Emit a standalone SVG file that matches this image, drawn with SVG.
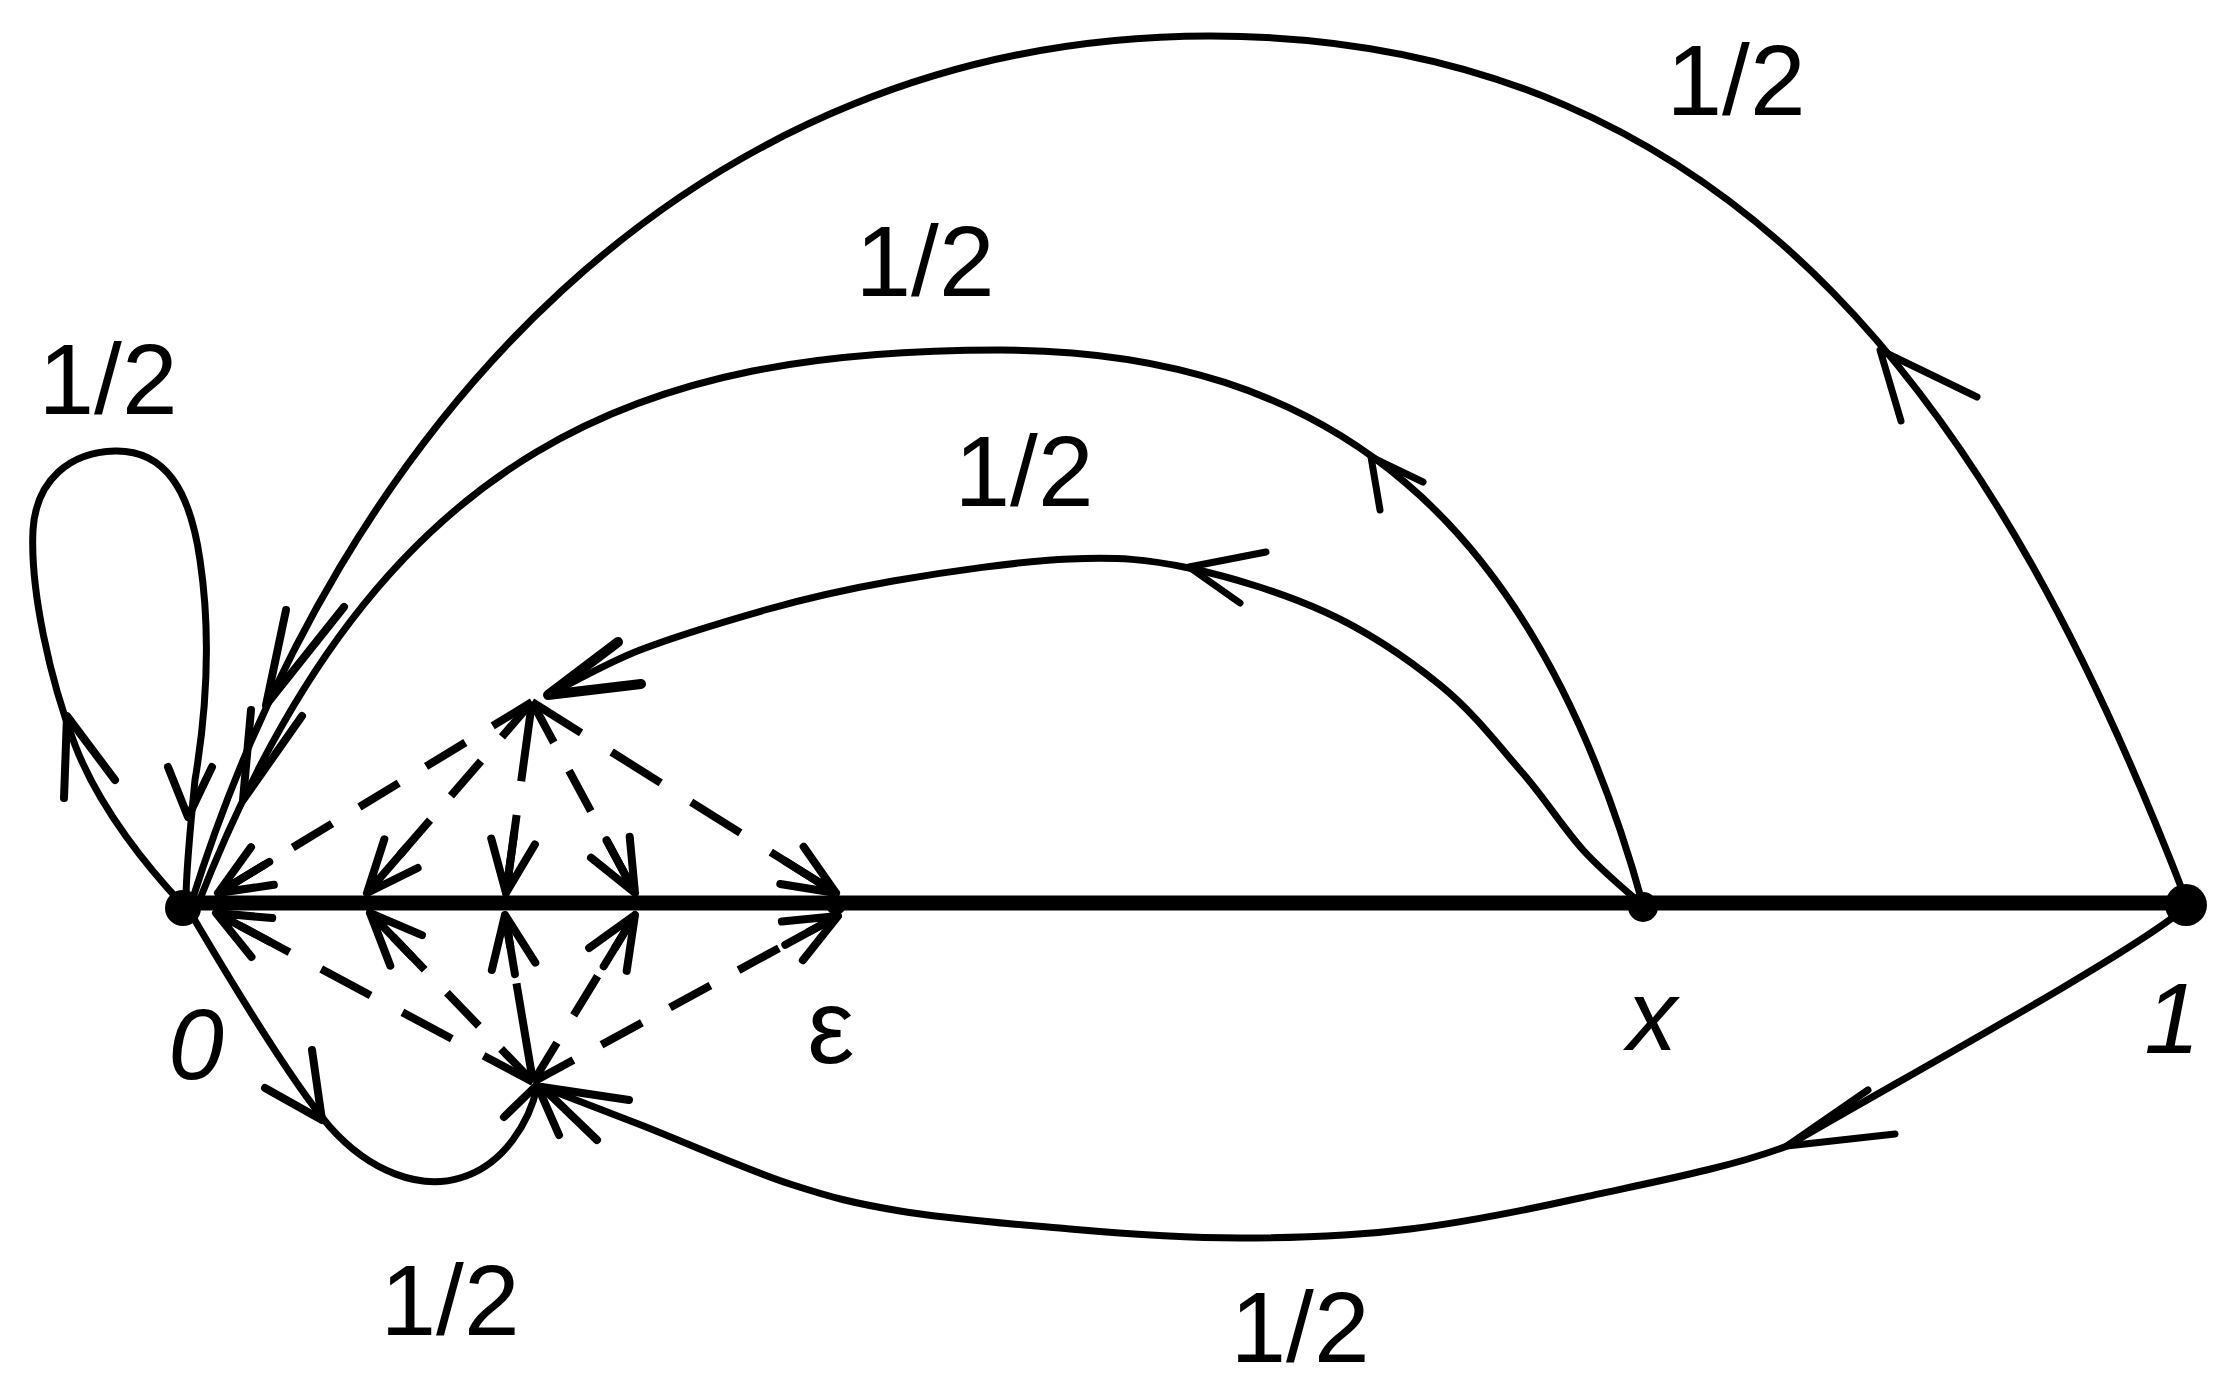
<svg xmlns="http://www.w3.org/2000/svg" xmlns:xlink="http://www.w3.org/1999/xlink" width="2233" height="1391" viewBox="0 0 2233 1391">
<style>
.edge{fill:none;stroke:#000;stroke-width:7;stroke-linecap:round;stroke-linejoin:round}
.axis{fill:none;stroke:#000;stroke-width:15;stroke-linecap:round}
.dash{fill:none;stroke:#000;stroke-width:8;stroke-dasharray:46 32;stroke-linecap:butt}
.ah{fill:none;stroke:#000;stroke-width:8;stroke-linecap:round;stroke-linejoin:round}
.ahc{fill:none;stroke:#000;stroke-width:7;stroke-linecap:round;stroke-linejoin:round}
.dot{fill:#000}
.lbl{font-family:"Liberation Sans",Arial,sans-serif;font-size:100px;fill:#000;text-anchor:middle}
.it{font-style:italic}
</style>
<defs>
<path id="ah" d="M-52,-22 L0,0 L-52,22 M-60,0 L0,0"/>
</defs>
<rect width="2233" height="1391" fill="#fff"/>

<g id="connectors">
  <!-- axis 0 - 1 -->
  <path class="axis" d="M183,903 L2187,903"/>

  <!-- outer arc 1 -> 0 -->
  <path class="edge" d="M2185,897 C2005,432 1750,36 1210,36 C690,36 340,427 191,904"/>
  <path class="ahc" d="M1901,421 L1880,350 L1977,397"/>
  <path class="ah" d="M286,610 L266,705 L344,607"/>

  <!-- middle arc x -> 0 -->
  <path class="edge" d="M1643,905 C1537,519 1330,350 1000,350 C650,350 380,438 198,904"/>
  <path class="ahc" d="M1380,510 L1371,457 L1423,482"/>
  <path class="ah" d="M251,710 L243,800 L302,716"/>

  <!-- inner arc x -> T -->
  <path class="edge" d="M1640,903 C1630,894 1603,872 1583,850 C1563,828 1544,797 1520,770 C1496,742 1472,711 1440,685 C1408,659 1367,631 1325,612 C1283,593 1231,577 1189,568 C1146,559 1119,557 1070,559 C1021,561 944,572 893,581 C842,590 807,598 765,610 C723,622 676,636 640,650 C604,664 563,688 548,695"/>
  <path class="ahc" d="M1240,603 L1189,567 L1266,552"/>
  <path class="ah" style="stroke-width:10" d="M641,684 L548,695 L618,642"/>

  <!-- lower arc 1 -> B -->
  <path class="edge" d="M2180,912 C2120,960 1900,1080 1787,1146 C1730,1168 1643,1184 1580,1198 C1517,1212 1467,1222 1410,1229 C1353,1236 1297,1238 1240,1238 C1183,1238 1127,1234 1070,1229 C1013,1224 947,1219 900,1211 C853,1203 833,1198 790,1184 C747,1170 682,1141 641,1125 C600,1109 561,1094 545,1088"/>
  <path class="ahc" d="M1868,1090 L1787,1146 L1895,1134"/>
  <path class="ah" d="M629,1100 L542,1087 L597,1140"/>

  <!-- self loop at 0 -->
  <path class="edge" d="M183,905 C150,870 100,810 75,745 C50,680 30,590 33,530 C36,480 70,452 115,451 C165,450 190,490 200,560 C212,640 205,720 195,780 C190,830 186,870 186,900"/>
  <path class="ah" d="M64,798 L67,716 L115,780"/>
  <path class="ah" d="M168,767 L188,817 L212,767"/>

  <!-- lower loop 0 -> B -->
  <path class="edge" d="M190,912 C230,980 290,1080 330,1127 C370,1172 420,1190 460,1178 C505,1165 530,1120 537,1087"/>
  <path class="ah" d="M265,1088 L322,1120 L312,1050"/>
  <path class="ah" d="M504,1117 L537,1085 L559,1135"/>

  <!-- dashed from T -->
  <path class="dash" d="M532,702 L218,893"/>
  <path class="dash" d="M532,702 L367,893"/>
  <path class="dash" style="stroke-dasharray:80 34" d="M532,702 L506,893"/>
  <path class="dash" d="M532,702 L635,893"/>
  <path class="dash" style="stroke-dasharray:58 36" d="M532,702 L836,893"/>
  <use class="ah" xlink:href="#ah" href="#ah" transform="translate(218,893) rotate(148.7)"/>
  <use class="ah" xlink:href="#ah" href="#ah" transform="translate(367,893) rotate(130.8)"/>
  <use class="ah" xlink:href="#ah" href="#ah" transform="translate(506,893) rotate(97.8)"/>
  <use class="ah" xlink:href="#ah" href="#ah" transform="translate(635,893) rotate(61.7)"/>
  <use class="ah" xlink:href="#ah" href="#ah" transform="translate(836,893) rotate(32.1)"/>

  <!-- dashed from B -->
  <path class="dash" style="stroke-dasharray:56 36" d="M533,1082 L216,913"/>
  <path class="dash" d="M533,1082 L370,913"/>
  <path class="dash" style="stroke-dasharray:100 36" d="M533,1082 L505,915"/>
  <path class="dash" d="M533,1082 L635,915"/>
  <path class="dash" d="M533,1082 L838,916"/>
  <use class="ah" xlink:href="#ah" href="#ah" transform="translate(216,913) rotate(-151.9)"/>
  <use class="ah" xlink:href="#ah" href="#ah" transform="translate(370,913) rotate(-134)"/>
  <use class="ah" xlink:href="#ah" href="#ah" transform="translate(505,915) rotate(-99.5)"/>
  <use class="ah" xlink:href="#ah" href="#ah" transform="translate(635,915) rotate(-58.6)"/>
  <use class="ah" xlink:href="#ah" href="#ah" transform="translate(838,916) rotate(-28.6)"/>

  <!-- edge labels -->
  <text class="lbl" x="108" y="414">1/2</text>
  <text class="lbl" x="925" y="296">1/2</text>
  <text class="lbl" x="1024" y="506">1/2</text>
  <text class="lbl" x="1736" y="115">1/2</text>
  <text class="lbl" x="1300" y="1362">1/2</text>
  <text class="lbl" x="450" y="1335">1/2</text>
</g>

<g id="node-0">
  <circle class="dot" cx="183" cy="908" r="18"/>
  <text class="lbl it" x="196" y="1079">0</text>
</g>
<g id="node-eps">
  <circle class="dot" cx="836" cy="905" r="10"/>
  <text class="lbl" x="831" y="1063" style="font-size:106px">ε</text>
</g>
<g id="node-x">
  <circle class="dot" cx="1643" cy="907" r="15"/>
  <text class="lbl it" x="1652" y="1050">x</text>
</g>
<g id="node-1">
  <circle class="dot" cx="2186" cy="905" r="21"/>
  <text class="lbl it" x="2172" y="1053">1</text>
</g>
</svg>
